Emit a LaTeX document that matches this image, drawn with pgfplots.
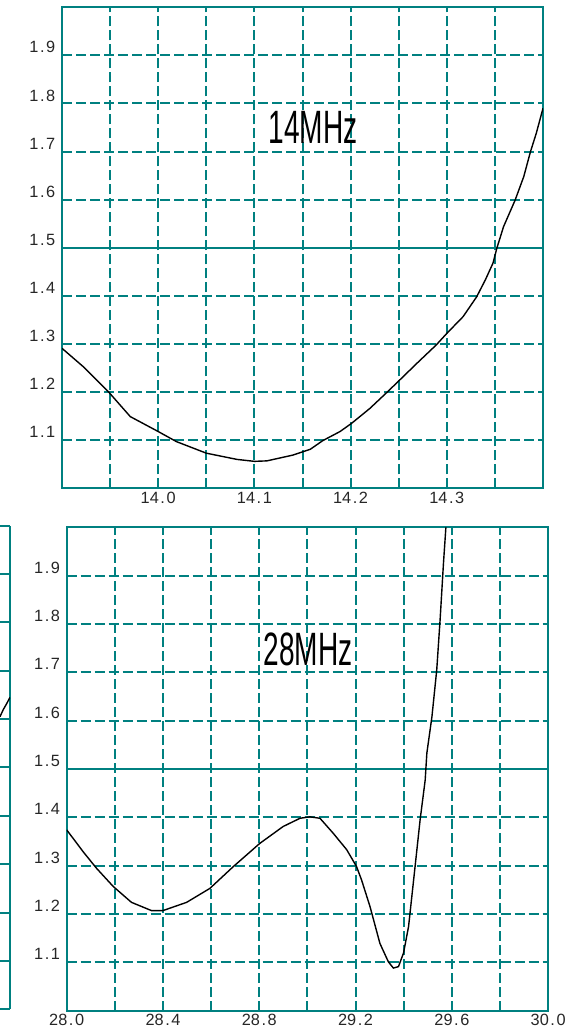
\documentclass[border=0pt]{standalone}
\usepackage{pgfplots}
\pgfplotsset{compat=1.18}
\usepackage{fontspec}
\setmainfont{Liberation Sans}
\definecolor{gridteal}{RGB}{0,128,128}
\newcommand{\tl}[2]{#1\kern1.6pt.\kern1.6pt#2}
\pgfplotsset{
  swrstyle/.style={
    scale only axis,
    anchor=south west,
    ymin=1, ymax=2,
    ytick={1.1,1.2,1.3,1.4,1.5,1.6,1.7,1.8,1.9},
    yticklabels={\tl{1}{1},\tl{1}{2},\tl{1}{3},\tl{1}{4},\tl{1}{5},\tl{1}{6},\tl{1}{7},\tl{1}{8},\tl{1}{9}},
    grid=major,
    major grid style={gridteal, line width=2pt, dash pattern=on 10pt off 4pt},
    axis line style={gridteal, line width=2pt},
    major tick length=0pt,
    ticklabel style={font=\fontsize{16.3}{18}\selectfont, text=black!85},
    yticklabel style={anchor=east, inner sep=0pt, xshift=-6.5pt, yshift=8pt},
    xticklabel style={anchor=north, inner sep=0pt, yshift=-3.5pt},
  }
}
\begin{document}
\begin{tikzpicture}
\path[use as bounding box] (0pt,0pt) rectangle (579pt,1030pt);

% right edge of a further chart, cut off at the left border
\begin{axis}[swrstyle, at={(0pt,20.7pt)}, width=10pt, height=483.6pt,
  xmin=9.79, xmax=10, xtick=\empty, yticklabels={},
  axis x line*=box, axis y line*=right]
\addplot[black, line width=1.4pt] coordinates {(9.79,1.605) (9.86,1.62) (9.93,1.632) (10,1.645)};
\end{axis}

% 14 MHz
\begin{axis}[swrstyle, at={(62pt,541.7pt)}, width=481pt, height=481pt,
  xmin=13.9, xmax=14.4,
  xtick={13.95,14.0,14.05,14.1,14.15,14.2,14.25,14.3,14.35},
  xticklabels={{},\tl{14}{0},{},\tl{14}{1},{},\tl{14}{2},{},\tl{14}{3},{}}]
\draw[gridteal, line width=2pt] (rel axis cs:0,0.5) -- (rel axis cs:1,0.5);
\addplot[black, line width=1.4pt] coordinates {
(13.900,1.291) (13.922,1.253) (13.949,1.199) (13.971,1.149) (14.000,1.118)
(14.019,1.097) (14.050,1.073) (14.082,1.060) (14.100,1.056) (14.113,1.057)
(14.140,1.069) (14.158,1.081) (14.171,1.099) (14.189,1.118) (14.201,1.135)
(14.220,1.166) (14.237,1.198) (14.251,1.225) (14.269,1.260) (14.289,1.298)
(14.300,1.322) (14.317,1.357) (14.331,1.398) (14.340,1.433) (14.348,1.468)
(14.352,1.499) (14.359,1.544) (14.371,1.599) (14.380,1.648) (14.387,1.700)
(14.393,1.738) (14.400,1.790)};
\node[xscale=0.6, font=\fontsize{46.8}{50}\selectfont, inner sep=0pt] at (axis cs:14.161,1.751) {14MHz};
\end{axis}

% 28 MHz
\begin{axis}[swrstyle, at={(66.7pt,19.4pt)}, width=481.5pt, height=483.2pt,
  xmin=28, xmax=30,
  xtick={28.0,28.2,28.4,28.6,28.8,29.0,29.2,29.4,29.6,29.8,30.0},
  xticklabels={\tl{28}{0},{},\tl{28}{4},{},\tl{28}{8},{},\tl{29}{2},{},\tl{29}{6},{},\tl{30}{0}}]
\draw[gridteal, line width=2pt] (rel axis cs:0,0.5) -- (rel axis cs:1,0.5);
\addplot[black, line width=1.4pt] coordinates {
(28.000,1.374) (28.068,1.329) (28.123,1.295) (28.193,1.257) (28.269,1.224)
(28.352,1.207) (28.400,1.207) (28.498,1.224) (28.595,1.253) (28.692,1.298)
(28.802,1.346) (28.899,1.381) (28.969,1.398) (29.010,1.401) (29.052,1.398)
(29.107,1.367) (29.163,1.333) (29.204,1.298) (29.225,1.270) (29.260,1.215)
(29.301,1.139) (29.336,1.101) (29.357,1.088) (29.378,1.091) (29.399,1.119)
(29.420,1.174) (29.447,1.298) (29.468,1.395) (29.489,1.477) (29.496,1.533)
(29.517,1.608) (29.537,1.705) (29.551,1.809) (29.565,1.926) (29.575,2.000)};
\node[xscale=0.6, font=\fontsize{46.8}{50}\selectfont, inner sep=0pt] at (axis cs:29.002,1.747) {28MHz};
\end{axis}
\end{tikzpicture}
\end{document}
